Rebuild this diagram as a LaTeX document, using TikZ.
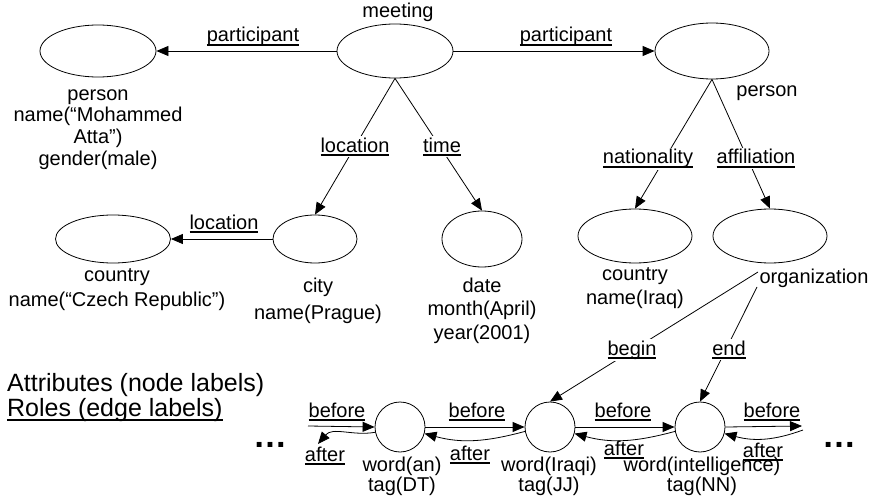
\documentclass[tikz,border=0pt]{standalone}
\usepackage{fontspec}
\setmainfont{Liberation Sans}
\usetikzlibrary{arrows.meta,shapes.geometric}
\newsavebox\ulbox
\newcommand\ulab[1]{\sbox\ulbox{#1}\leavevmode\rlap{\rule[-0.19em]{\wd\ulbox}{0.075em}}\usebox\ulbox}
\begin{document}
\begin{tikzpicture}[x=1pt,y=1pt,
  ell/.style={draw, ellipse, inner sep=0, line width=0.8pt},
  circ/.style={draw, circle, inner sep=0, minimum size=50pt, line width=0.8pt},
  arr/.style={line width=0.8pt, -{Triangle[length=12pt,width=10pt]}},
  txt/.style={inner sep=0, font=\fontsize{20}{22}\selectfont, align=center},
  role/.style={inner sep=1.5pt, font=\fontsize{20}{22}\selectfont, anchor=base},
  onl/.style={role, fill=white},
  legend/.style={anchor=base west, inner sep=0, font=\fontsize{25}{28}\selectfont},
  dots/.style={anchor=base, inner sep=0, font=\fontsize{34}{34}\selectfont\bfseries},
]
\useasboundingbox (0,0) rectangle (871,-503);
% ellipse nodes
\node[ell, minimum width=116pt, minimum height=52pt] (pl) at (98,-51) {};
\node[ell, minimum width=116pt, minimum height=54pt] (meet) at (395,-51) {};
\node[ell, minimum width=114pt, minimum height=56pt] (pr) at (712,-51) {};
\node[ell, minimum width=84pt, minimum height=48pt] (city) at (315,-239) {};
\node[ell, minimum width=115pt, minimum height=48pt] (cz) at (113,-239) {};
\node[ell, minimum width=80pt, minimum height=56pt] (date) at (482,-239) {};
\node[ell, minimum width=114pt, minimum height=54pt] (iraq) at (635,-236) {};
\node[ell, minimum width=114pt, minimum height=54pt] (org) at (770,-236) {};
\node[circ] (w1) at (400,-427) {};
\node[circ] (w2) at (550,-427) {};
\node[circ] (w3) at (700,-427) {};
% attribute texts
\node[txt, anchor=base] (meett) at (398,-18) {meeting};
\node[txt, font=\fontsize{20}{21.7}\selectfont] (plt) at (98,-129.5) {person\\name(“Mohammed\\Atta”)\\gender(male)};
\node[txt, anchor=base] (prt) at (767,-96) {person};
\node[txt, font=\fontsize{20}{25}\selectfont] (czt) at (117,-289.5) {country\\name(“Czech Republic”)};
\node[txt, font=\fontsize{20}{27}\selectfont] (cityt) at (318,-300.5) {city\\name(Prague)};
\node[txt, font=\fontsize{20}{23.5}\selectfont] (datet) at (482,-310.5) {date\\month(April)\\year(2001)};
\node[txt, font=\fontsize{20}{24}\selectfont] (iraqt) at (635,-288) {country\\name(Iraq)};
\node[txt, anchor=base] (orgt) at (814,-283) {organization};
\node[txt, font=\fontsize{20}{20}\selectfont] (w1t) at (402,-476) {word(an)\\tag(DT)};
\node[txt, font=\fontsize{20}{20}\selectfont] (w2t) at (549,-476) {word(Iraqi)\\tag(JJ)};
\node[txt, font=\fontsize{20}{20}\selectfont] (w3t) at (702,-476) {word(intelligence)\\tag(NN)};
% connectors
\draw[arr] (meet) -- (pl);
\draw[arr] (meet) -- (pr);
\draw[arr] (meet.south) -- (city.north);
\draw[arr] (meet.south) -- (date.north);
\draw[arr] (pr.south) -- (iraq.north);
\draw[arr] (pr.south) -- (org.north);
\draw[arr] (city) -- (cz);
\coordinate (b0) at (758,-272);
\coordinate (e0) at (757,-287);
\draw[arr] (b0) -- (w2.north);
\draw[arr] (e0) -- (w3.north);
\coordinate (l0) at (308,-426);
\coordinate (la) at (318,-444);
\coordinate (r0) at (802,-426);
\coordinate (ra) at (803,-430);
\draw[arr] (l0) -- (w1.west);
\draw[arr] (w1.192) to[out=190,in=50] (la);
\draw[arr] (w1.east) -- (w2.west);
\draw[arr] (w2.190) to[out=195,in=-15] (w1.-15);
\draw[arr] (w2.east) -- (w3.west);
\draw[arr] (w3.190) to[out=195,in=-15] (w2.-15);
\draw[arr] (w3.east) -- (r0);
\draw[arr] (ra) to[out=200,in=-15] (w3.-15);
% role labels
\node[role] (rp1) at (253,-42) {\ulab{participant}};
\node[role] (rp2) at (566,-42) {\ulab{participant}};
\node[onl] (rloc) at (355,-152) {\ulab{location}};
\node[onl] (rtime) at (442,-152) {\ulab{time}};
\node[onl] (rnat) at (648,-164) {\ulab{nationality}};
\node[onl] (raff) at (756,-164) {\ulab{affiliation}};
\node[role] (rloc2) at (224,-229) {\ulab{location}};
\node[onl] (rbeg) at (632,-355) {\ulab{begin}};
\node[onl] (rend) at (729,-355) {\ulab{end}};
\node[role] (rb0) at (337,-417) {\ulab{before}};
\node[role] (ra0) at (325,-461) {\ulab{after}};
\node[role] (rb1) at (477,-417) {\ulab{before}};
\node[role] (ra1) at (470,-460) {\ulab{after}};
\node[role] (rb2) at (623,-417) {\ulab{before}};
\node[role] (ra2) at (624,-455) {\ulab{after}};
\node[role] (rb3) at (772,-417) {\ulab{before}};
\node[role] (ra3) at (763,-457) {\ulab{after}};
% legend and ellipses
\node[legend] (attr) at (7,-391) {Attributes (node labels)};
\node[legend] (roles) at (7,-416) {\ulab{Roles (edge labels)}};
\node[dots] (dl) at (270,-447) {…};
\node[dots] (dr) at (839,-447) {…};
\end{tikzpicture}
\end{document}
